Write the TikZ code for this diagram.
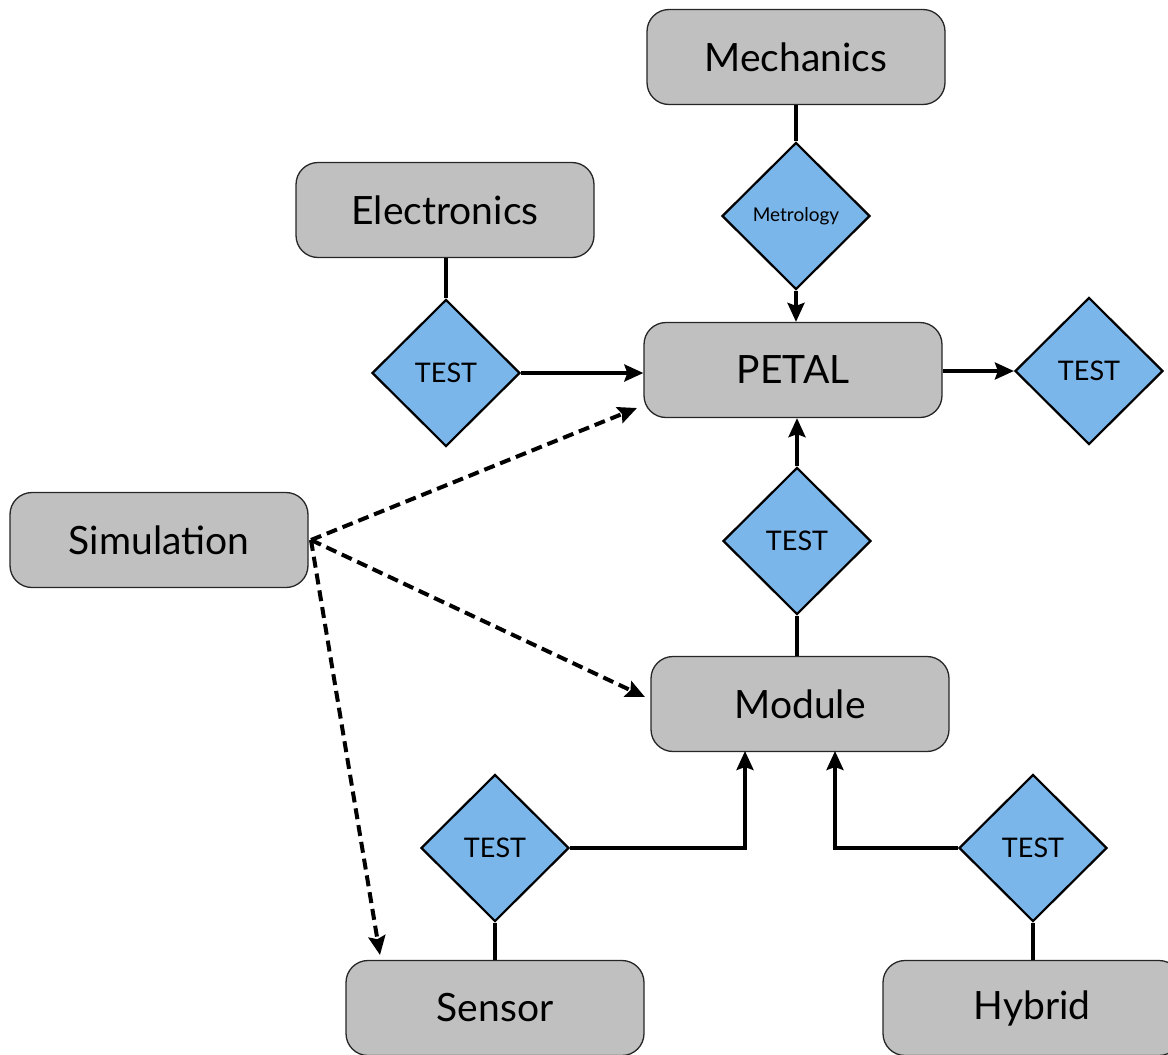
\documentclass[tikz,border=0pt]{standalone}
\usepackage{fontspec}
\setmainfont{Lato}
\usetikzlibrary{shapes.geometric,arrows.meta}
\definecolor{boxgray}{RGB}{192,192,192}
\definecolor{testblue}{RGB}{123,182,234}

\begin{document}
\begin{tikzpicture}[x=1pt,y=-1pt,
  part/.style={draw=black!85,line width=1.3pt,fill=boxgray,rounded corners=22pt,
    minimum width=298pt,minimum height=95pt,inner sep=0pt,font=\fontsize{39}{46}\selectfont},
  test/.style={diamond,draw=black,line width=2.2pt,fill=testblue,
    minimum width=148pt,minimum height=147pt,inner sep=0pt,font=\fontsize{27}{32}\selectfont},
  link/.style={line width=3.5pt},
  flow/.style={line width=3.5pt,-{Stealth[length=19pt,width=17pt,inset=3pt]}},
  hint/.style={line width=4pt,dash pattern=on 11pt off 6pt,-{Stealth[length=19pt,width=17pt,inset=3pt]}}]
\clip (0,0) rectangle (1168,1055);
% Drawing boxes
\node[part] (mech) at (796,57) {Mechanics};
\node[part] (elec) at (445,210) {Electronics};
\node[part] (petal) at (793,370) {PETAL};
\node[part] (simu) at (159,540) {Simulation};
\node[part] (module) at (800,704) {Module};
\node[part] (sensor) at (495,1008) {\raisebox{-4pt}{Sensor}};
\node[part] (hybrid) at (1032,1008) {\raisebox{-4pt}{Hybrid}};
% Done with boxes; drawing tests
\node[test,font=\fontsize{19}{22}\selectfont] (metro) at (796,216) {Metrology};
\node[test] (telec) at (446,373) {TEST};
\node[test] (tpetal) at (1089,371) {TEST};
\node[test] (tmod) at (797,541) {TEST};
\node[test] (tsens) at (495,848) {TEST};
\node[test] (thyb) at (1033,848) {TEST};
% Done with tests; drawing connectors
\coordinate (modin1) at (745,751);
\coordinate (modin2) at (835,751);
\draw[link] (mech.south -| metro.north) -- (metro.north);
\draw[flow] (metro.south) -- (metro.south |- petal.north);
\draw[link] (elec.south -| telec.north) -- (telec.north);
\draw[flow] (telec.east) -- (telec.east -| petal.west);
\draw[flow] (petal.east |- tpetal.west) -- (tpetal.west);
\draw[link] (module.north -| tmod.south) -- (tmod.south);
\draw[flow] (tmod.north) -- (tmod.north |- petal.south);
\draw[link] (tsens.south) -- (sensor.north);
\draw[flow] (tsens.east) -| (modin1);
\draw[link] (thyb.south) -- (thyb.south |- hybrid.north);
\draw[flow] (thyb.west) -| (modin2);
% Done with connectors; drawing simulation hints
\coordinate (simout) at (311,540);
\coordinate (petalin) at (637,408);
\coordinate (modulein) at (645,697);
\coordinate (sensorin) at (380,955);
\draw[hint] (simout) -- (petalin);
\draw[hint] (simout) -- (modulein);
\draw[hint] (simout) -- (sensorin);
% Done
\end{tikzpicture}
\end{document}
